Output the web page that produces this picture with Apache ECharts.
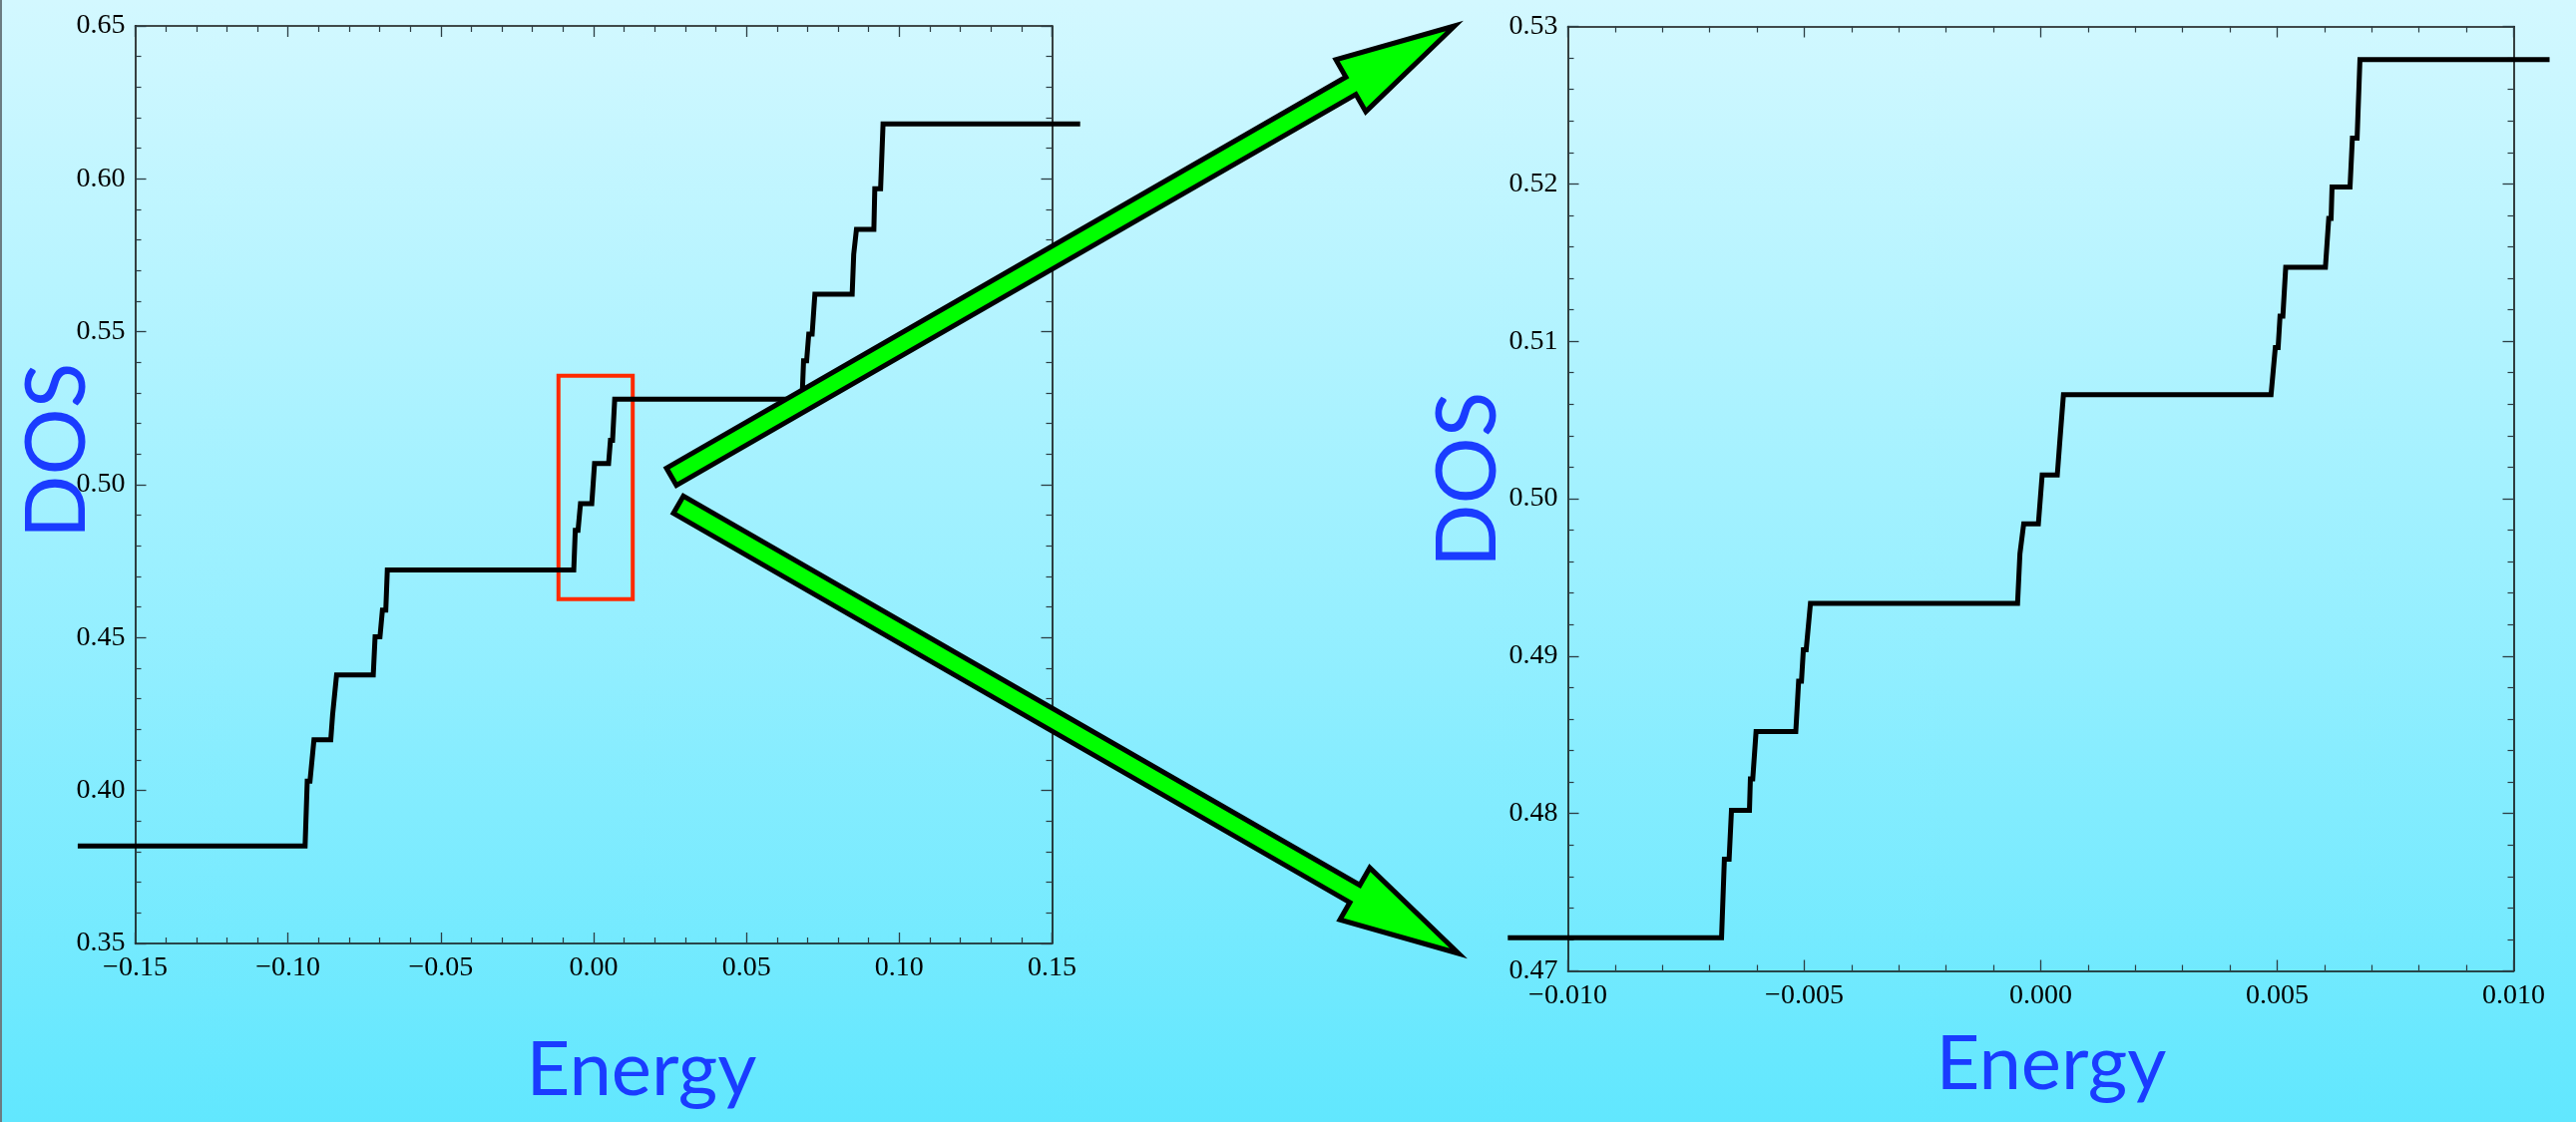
<!DOCTYPE html>
<html>
<head>
<meta charset="utf-8">
<title>DOS vs Energy</title>
<script src="https://cdn.jsdelivr.net/npm/echarts@6/dist/echarts.min.js"></script>
<style>
  html, body { margin: 0; padding: 0; width: 2582px; height: 1125px; overflow: hidden;
    background: linear-gradient(to bottom, #d3f8ff 0%, #9cf0ff 50%, #61e7fe 100%); }
  #main { width: 2582px; height: 1125px; }
</style>
</head>
<body>
<div id="main"></div>
<script>
// Integrated density of states over the wide energy window (corner points of the staircase)
const wideEnergy = [-0.1688, -0.0944, -0.0937, -0.0928, -0.0915, -0.0860, -0.0854, -0.0849, -0.0841,
  -0.0721, -0.0715, -0.0699, -0.0691, -0.0680, -0.0675, -0.0065, -0.0060, -0.0051, -0.0043, -0.0006,
  0.0003, 0.0049, 0.0055, 0.0062, 0.0069, 0.0682, 0.0687, 0.0697, 0.0704, 0.0715, 0.0724, 0.0846,
  0.0851, 0.0855, 0.0860, 0.0917, 0.0920, 0.0939, 0.0947, 0.1592];
const wideDos = [0.3819, 0.3819, 0.4031, 0.4031, 0.4166, 0.4166, 0.4248, 0.4248, 0.4378,
  0.4378, 0.4503, 0.4503, 0.4590, 0.4590, 0.4721, 0.4721, 0.4851, 0.4851, 0.4938, 0.4938,
  0.5069, 0.5069, 0.5145, 0.5145, 0.5280, 0.5280, 0.5405, 0.5405, 0.5492, 0.5492, 0.5623, 0.5623,
  0.5753, 0.5753, 0.5835, 0.5835, 0.5968, 0.5968, 0.6180, 0.6180];

// Same quantity resolved near E = 0
const zoomEnergy = [-0.01127, -0.00675, -0.00669, -0.00659, -0.00654, -0.00616, -0.00614, -0.00609,
  -0.00602, -0.00518, -0.00512, -0.00506, -0.00502, -0.00496, -0.00487, -0.00049, -0.00044, -0.00040,
  -0.00036, -0.00005, 0.00003, 0.00035, 0.00040, 0.00044, 0.00048, 0.00487, 0.00496, 0.00502,
  0.00506, 0.00512, 0.00518, 0.00602, 0.00609, 0.00614, 0.00616, 0.00654, 0.00659, 0.00669,
  0.00675, 0.01076];
const zoomDos = [0.4721, 0.4721, 0.4771, 0.4771, 0.4802, 0.4802, 0.4822, 0.4822,
  0.4852, 0.4852, 0.4884, 0.4884, 0.4904, 0.4904, 0.49335, 0.49335, 0.4965, 0.4965,
  0.4984, 0.4984, 0.5015, 0.5015, 0.5035, 0.5035, 0.5066, 0.5066, 0.5096, 0.5096,
  0.5116, 0.5116, 0.5147, 0.5147, 0.5178, 0.5178, 0.5198, 0.5198, 0.5229, 0.5229,
  0.5279, 0.5279];

// Tick marks
const wideEnergyTicks = [-0.15, -0.10, -0.05, 0.00, 0.05, 0.10, 0.15];
const wideDosTicks = [0.35, 0.40, 0.45, 0.50, 0.55, 0.60, 0.65];
const zoomEnergyTicks = [-0.010, -0.005, 0.000, 0.005, 0.010];
const zoomDosTicks = [0.47, 0.48, 0.49, 0.50, 0.51, 0.52, 0.53];

// Window of the wide plot that the zoomed plot enlarges
const zoomBoxEnergy = [-0.0115, 0.0128];
const zoomBoxDos = [0.4626, 0.5356];

const pairs = (xs, ys) => xs.map((x, i) => [x, ys[i]]);

const fmt = (decimals) => (v) => {
  const r = Math.round(v * 1e6) / 1e6;
  return (r < 0 ? '\u2212' : '') + Math.abs(r).toFixed(decimals);
};

const FRAME = '#111';
const TICK = '#2c3e44';
const SERIF = '"Liberation Serif", "DejaVu Serif", serif';

// Frame boxes of the two panels (pixels)
const panels = [
  { left: 135.5, top: 26, width: 919, height: 920, xTicks: wideEnergyTicks, yTicks: wideDosTicks, xPad: 0.02 },
  { left: 1571.5, top: 26.5, width: 948, height: 947, xTicks: zoomEnergyTicks, yTicks: zoomDosTicks, xPad: 0.0015 }
];

function makeAxis(kind, gridIndex, ticks, decimals, position, labelled) {
  return {
    type: 'value',
    gridIndex: gridIndex,
    position: position,
    min: ticks[0],
    max: ticks[ticks.length - 1],
    interval: ticks[1] - ticks[0],
    axisLine: { show: true, onZero: false, lineStyle: { color: FRAME, width: 1.6 } },
    axisTick: { show: true, inside: true, length: 11, lineStyle: { color: TICK, width: 1.3 } },
    minorTick: { show: true, splitNumber: 5, length: 6, lineStyle: { color: TICK, width: 1.2 } },
    splitLine: { show: false },
    minorSplitLine: { show: false },
    axisLabel: {
      show: labelled,
      showMinLabel: true,
      showMaxLabel: true,
      formatter: fmt(decimals),
      fontFamily: SERIF,
      fontSize: 28,
      color: '#000',
      margin: kind === 'x' ? 11 : 10
    }
  };
}

// The curves run a little past the frame on both sides, so each one is drawn
// on an unframed grid that is widened by xPad (in energy units) on each side.
function widened(p) {
  const span = p.xTicks[p.xTicks.length - 1] - p.xTicks[0];
  const padPx = p.xPad / span * p.width;
  return { left: p.left - padPx, top: p.top, width: p.width + 2 * padPx, height: p.height, outerBoundsMode: 'none' };
}

function hiddenX(gridIndex, p) {
  return { type: 'value', gridIndex: gridIndex, show: false,
    min: p.xTicks[0] - p.xPad, max: p.xTicks[p.xTicks.length - 1] + p.xPad };
}
function hiddenY(gridIndex, p) {
  return { type: 'value', gridIndex: gridIndex, show: false,
    min: p.yTicks[0], max: p.yTicks[p.yTicks.length - 1] };
}

// Block arrow outline from tail centre to tip
function arrowShape(tail, tip, shaftHalf, headLen, headHalf) {
  const dx = tip[0] - tail[0], dy = tip[1] - tail[1];
  const L = Math.hypot(dx, dy);
  const ux = dx / L, uy = dy / L, nx = -uy, ny = ux;
  const bx = tip[0] - ux * headLen, by = tip[1] - uy * headLen;
  return [
    [tail[0] + nx * shaftHalf, tail[1] + ny * shaftHalf],
    [bx + nx * shaftHalf, by + ny * shaftHalf],
    [bx + nx * headHalf, by + ny * headHalf],
    [tip[0], tip[1]],
    [bx - nx * headHalf, by - ny * headHalf],
    [bx - nx * shaftHalf, by - ny * shaftHalf],
    [tail[0] - nx * shaftHalf, tail[1] - ny * shaftHalf]
  ];
}

function arrow(tail, tip) {
  return {
    type: 'polygon',
    z: 100,
    silent: true,
    shape: { points: arrowShape(tail, tip, 10, 120, 30) },
    style: { fill: '#00ff00', stroke: '#000', lineWidth: 5, lineJoin: 'miter', miterLimit: 10 }
  };
}

const LABEL_BLUE = '#1a3cff';

function label(text, x, y, size, rotated) {
  return {
    type: 'text',
    z: 90,
    silent: true,
    x: x,
    y: y,
    rotation: rotated ? Math.PI / 2 : 0,
    style: { text: text, fill: LABEL_BLUE, font: size + 'px Lato, "Open Sans", sans-serif',
      align: 'center', verticalAlign: 'middle' }
  };
}

const chart = echarts.init(document.getElementById('main'), null, { renderer: 'canvas' });

chart.setOption({
  animation: false,
  backgroundColor: 'transparent',
  grid: [
    { left: panels[0].left, top: panels[0].top, width: panels[0].width, height: panels[0].height, outerBoundsMode: 'none' },
    { left: panels[1].left, top: panels[1].top, width: panels[1].width, height: panels[1].height, outerBoundsMode: 'none' },
    widened(panels[0]),
    widened(panels[1])
  ],
  xAxis: [
    makeAxis('x', 0, wideEnergyTicks, 2, 'bottom', true),
    makeAxis('x', 0, wideEnergyTicks, 2, 'top', false),
    makeAxis('x', 1, zoomEnergyTicks, 3, 'bottom', true),
    makeAxis('x', 1, zoomEnergyTicks, 3, 'top', false),
    hiddenX(2, panels[0]),
    hiddenX(3, panels[1])
  ],
  yAxis: [
    makeAxis('y', 0, wideDosTicks, 2, 'left', true),
    makeAxis('y', 0, wideDosTicks, 2, 'right', false),
    makeAxis('y', 1, zoomDosTicks, 2, 'left', true),
    makeAxis('y', 1, zoomDosTicks, 2, 'right', false),
    hiddenY(2, panels[0]),
    hiddenY(3, panels[1])
  ],
  series: [
    {
      name: 'DOS',
      type: 'line',
      xAxisIndex: 4,
      yAxisIndex: 4,
      data: pairs(wideEnergy, wideDos),
      showSymbol: false,
      symbol: 'none',
      clip: false,
      lineStyle: { color: '#000', width: 5, join: 'miter', cap: 'butt' },
      markArea: {
        silent: true,
        itemStyle: { color: 'rgba(0,0,0,0)', borderColor: '#ff2a00', borderWidth: 4 },
        data: [[
          { coord: [zoomBoxEnergy[0], zoomBoxDos[0]] },
          { coord: [zoomBoxEnergy[1], zoomBoxDos[1]] }
        ]]
      }
    },
    {
      name: 'DOS (zoom)',
      type: 'line',
      xAxisIndex: 5,
      yAxisIndex: 5,
      data: pairs(zoomEnergy, zoomDos),
      showSymbol: false,
      symbol: 'none',
      clip: false,
      lineStyle: { color: '#000', width: 5, join: 'miter', cap: 'butt' }
    }
  ],
  graphic: [
    { type: 'rect', silent: true, z: 100, shape: { x: 0, y: 0, width: 2, height: 1125 }, style: { fill: '#6c7c82' } },
    label('Energy', 643, 1073, 76, false),
    label('Energy', 2056, 1067, 76, false),
    label('DOS', 58, 452, 84, true),
    label('DOS', 1472, 481, 84, true),
    arrow([673, 478], [1458, 26]),
    arrow([680, 506], [1462, 956])
  ]
});
</script>
</body>
</html>
